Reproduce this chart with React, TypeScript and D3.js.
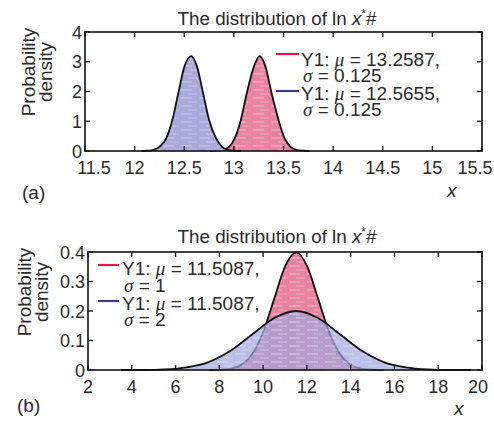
import React from 'react';
import * as d3 from 'd3';

// panel (a): two narrow densities, sigma = 0.125
const aTicksX = [11.5, 12, 12.5, 13, 13.5, 14, 14.5, 15, 15.5];
const aTicksY = [0, 1, 2, 3, 4];
const aRedX = [12.76, 12.82, 12.88, 12.95, 13.01, 13.07, 13.13, 13.2, 13.26, 13.32, 13.38, 13.45, 13.51, 13.57, 13.63, 13.7, 13.76];
const aRedY = [0.0, 0.01, 0.04, 0.14, 0.43, 1.04, 1.94, 2.82, 3.19, 2.82, 1.94, 1.04, 0.43, 0.14, 0.04, 0.01, 0.0];
const aBlueX = [12.07, 12.13, 12.19, 12.25, 12.32, 12.38, 12.44, 12.5, 12.57, 12.63, 12.69, 12.75, 12.82, 12.88, 12.94, 13.0, 13.07];
const aBlueY = [0.0, 0.01, 0.04, 0.14, 0.43, 1.04, 1.94, 2.82, 3.19, 2.82, 1.94, 1.04, 0.43, 0.14, 0.04, 0.01, 0.0];
const aLegend = [
  { mu: '13.2587', sigma: '0.125' },
  { mu: '12.5655', sigma: '0.125' },
];

// panel (b): same mean, sigma = 1 and sigma = 2
const bTicksX = [2, 4, 6, 8, 10, 12, 14, 16, 18, 20];
const bTicksY = [0, 0.1, 0.2, 0.3, 0.4];
const bRedX = [7.51, 8.01, 8.51, 9.01, 9.51, 10.01, 10.51, 11.01, 11.51, 12.01, 12.51, 13.01, 13.51, 14.01, 14.51, 15.01, 15.51];
const bRedY = [0.0, 0.001, 0.004, 0.018, 0.054, 0.13, 0.242, 0.352, 0.399, 0.352, 0.242, 0.13, 0.054, 0.018, 0.004, 0.001, 0.0];
const bBlueX = [3.51, 4.51, 5.51, 6.51, 7.51, 8.51, 9.51, 10.51, 11.51, 12.51, 13.51, 14.51, 15.51, 16.51, 17.51, 18.51, 19.51];
const bBlueY = [0.0, 0.0, 0.002, 0.009, 0.027, 0.065, 0.121, 0.176, 0.2, 0.176, 0.121, 0.065, 0.027, 0.009, 0.002, 0.0, 0.0];
const bLegend = [
  { mu: '11.5087', sigma: '1' },
  { mu: '11.5087', sigma: '2' },
];

const FONT = "'Liberation Sans', Arial, Helvetica, sans-serif";
const SERIF = "'Liberation Serif', 'DejaVu Serif', serif";
const TEXT = '#2a2a2a';
const RED_LINE = '#e3173f';
const BLUE_LINE = '#3d3d8e';

function Panel({ frame, xDomain, yDomain, xTicks, yTicks, curves, legend, titleY, tag, tagPos, xLabelPos, yLabel, edgeShift }: any) {
  const x = d3.scaleLinear().domain(xDomain).range([frame.left, frame.right]);
  const y = d3.scaleLinear().domain(yDomain).range([frame.bottom, frame.top]);
  const tl = 5;

  return (
    <g fontFamily={FONT} fill={TEXT}>
      <text x={277} y={titleY} textAnchor="middle" fontSize={18.8}>
        The distribution of ln <tspan fontStyle="italic">x</tspan>
        <tspan fontSize={12} dy={-7}>*</tspan>
        <tspan dy={7}>#</tspan>
      </text>

      {curves.map((c: any, i: number) => {
        const pts = c.xs.map((v: number, k: number) => [v, c.ys[k]]);
        const ar = d3.area<number[]>()
          .x(d => x(d[0]))
          .y0(y(0))
          .y1(d => y(d[1]))
          .curve(d3.curveMonotoneX)(pts) as string;
        const ln = d3.line<number[]>()
          .x(d => x(d[0]))
          .y(d => y(d[1]))
          .curve(d3.curveMonotoneX)(pts) as string;
        return (
          <g key={i}>
            <path d={ar} fill={c.fill} fillOpacity={c.opacity} />
            <path d={ar} fill="url(#streak)" />
            <path d={ln} fill="none" stroke="#111" strokeWidth={1.8} />
          </g>
        );
      })}

      {/* frame */}
      <rect x={frame.left} y={frame.top} width={frame.right - frame.left} height={frame.bottom - frame.top}
        fill="none" stroke="#111" strokeWidth={1.6} />
      {xTicks.map((t: number, i: number) => {
        let dx = 0;
        if (i === 0) dx = edgeShift[0];
        if (i === xTicks.length - 1) dx = edgeShift[1];
        return (
          <g key={'x' + t}>
            <line x1={x(t)} x2={x(t)} y1={frame.bottom} y2={frame.bottom - tl} stroke="#111" strokeWidth={1.3} />
            <line x1={x(t)} x2={x(t)} y1={frame.top} y2={frame.top + tl} stroke="#111" strokeWidth={1.3} />
            <text x={x(t) + dx} y={frame.bottom + 23} textAnchor="middle" fontSize={18}>{String(t)}</text>
          </g>
        );
      })}
      {yTicks.map((t: number) => (
        <g key={'y' + t}>
          <line x1={frame.left} x2={frame.left + tl} y1={y(t)} y2={y(t)} stroke="#111" strokeWidth={1.3} />
          <line x1={frame.right} x2={frame.right - tl} y1={y(t)} y2={y(t)} stroke="#111" strokeWidth={1.3} />
          <text x={frame.left - 3} y={y(t) + 6.5} textAnchor="end" fontSize={18}>{String(t)}</text>
        </g>
      ))}

      <text transform={`translate(${yLabel.x1},${yLabel.y}) rotate(-90)`} textAnchor="middle" fontSize={19}>Probability</text>
      <text transform={`translate(${yLabel.x2},${yLabel.y}) rotate(-90)`} textAnchor="middle" fontSize={19}>density</text>

      <text x={tagPos[0]} y={tagPos[1]} fontSize={19}>{tag}</text>
      <text x={xLabelPos[0]} y={xLabelPos[1]} fontSize={19} fontStyle="italic">x</text>

      {legend.rows.map((r: any, i: number) => (
        <g key={i}>
          <line x1={legend.x1} x2={legend.x2} y1={r.lineY} y2={r.lineY} stroke={r.color} strokeWidth={2.2} />
          <text x={legend.textX} y={r.y1} fontSize={19}>
            Y1: <tspan fontFamily={SERIF} fontStyle="italic">μ</tspan> = {r.mu},
          </text>
          <text x={legend.textX + 2} y={r.y2} fontSize={19}>
            <tspan fontFamily={SERIF} fontStyle="italic">σ</tspan> = {r.sigma}
          </text>
        </g>
      ))}
    </g>
  );
}

export default function App() {
  return (
    <svg width={494} height={421} style={{ position: 'absolute', left: 0, top: 0, background: '#fff' }}>
      <defs>
        <pattern id="streak" width={18} height={8} patternUnits="userSpaceOnUse">
          <line x1={1} x2={12} y1={2} y2={2} stroke="#fff" strokeOpacity={0.35} strokeWidth={1.4} />
          <line x1={8} x2={17} y1={6} y2={6} stroke="#fff" strokeOpacity={0.3} strokeWidth={1.2} />
        </pattern>
      </defs>
      <rect width={494} height={421} fill="#fff" />

      <Panel
        frame={{ left: 85, right: 482, top: 32, bottom: 151 }}
        xDomain={[11.5, 15.5]}
        yDomain={[0, 4]}
        xTicks={aTicksX}
        yTicks={aTicksY}
        edgeShift={[9, -7]}
        curves={[
          { xs: aRedX, ys: aRedY, fill: '#e8829f', opacity: 1 },
          { xs: aBlueX, ys: aBlueY, fill: '#a9a9dc', opacity: 1 },
        ]}
        legend={{
          x1: 276, x2: 299, textX: 301,
          rows: [
            { color: RED_LINE, lineY: 54, y1: 66, y2: 82, mu: aLegend[0].mu, sigma: aLegend[0].sigma },
            { color: BLUE_LINE, lineY: 91, y1: 100, y2: 116, mu: aLegend[1].mu, sigma: aLegend[1].sigma },
          ],
        }}
        titleY={25}
        tag="(a)"
        tagPos={[22, 199]}
        xLabelPos={[447, 197]}
        yLabel={{ x1: 35, x2: 52, y: 72 }}
      />

      <Panel
        frame={{ left: 88, right: 482, top: 252, bottom: 370 }}
        xDomain={[2, 20]}
        yDomain={[0, 0.4]}
        xTicks={bTicksX}
        yTicks={bTicksY}
        edgeShift={[0, -4]}
        curves={[
          { xs: bRedX, ys: bRedY, fill: '#e8829f', opacity: 1 },
          { xs: bBlueX, ys: bBlueY, fill: '#a0a4e0', opacity: 0.7 },
        ]}
        legend={{
          x1: 98, x2: 119, textX: 122,
          rows: [
            { color: RED_LINE, lineY: 265, y1: 275, y2: 292, mu: bLegend[0].mu, sigma: bLegend[0].sigma },
            { color: BLUE_LINE, lineY: 301, y1: 310, y2: 326, mu: bLegend[1].mu, sigma: bLegend[1].sigma },
          ],
        }}
        titleY={243}
        tag="(b)"
        tagPos={[17, 412]}
        xLabelPos={[454, 415]}
        yLabel={{ x1: 31, x2: 48, y: 292 }}
      />
    </svg>
  );
}
